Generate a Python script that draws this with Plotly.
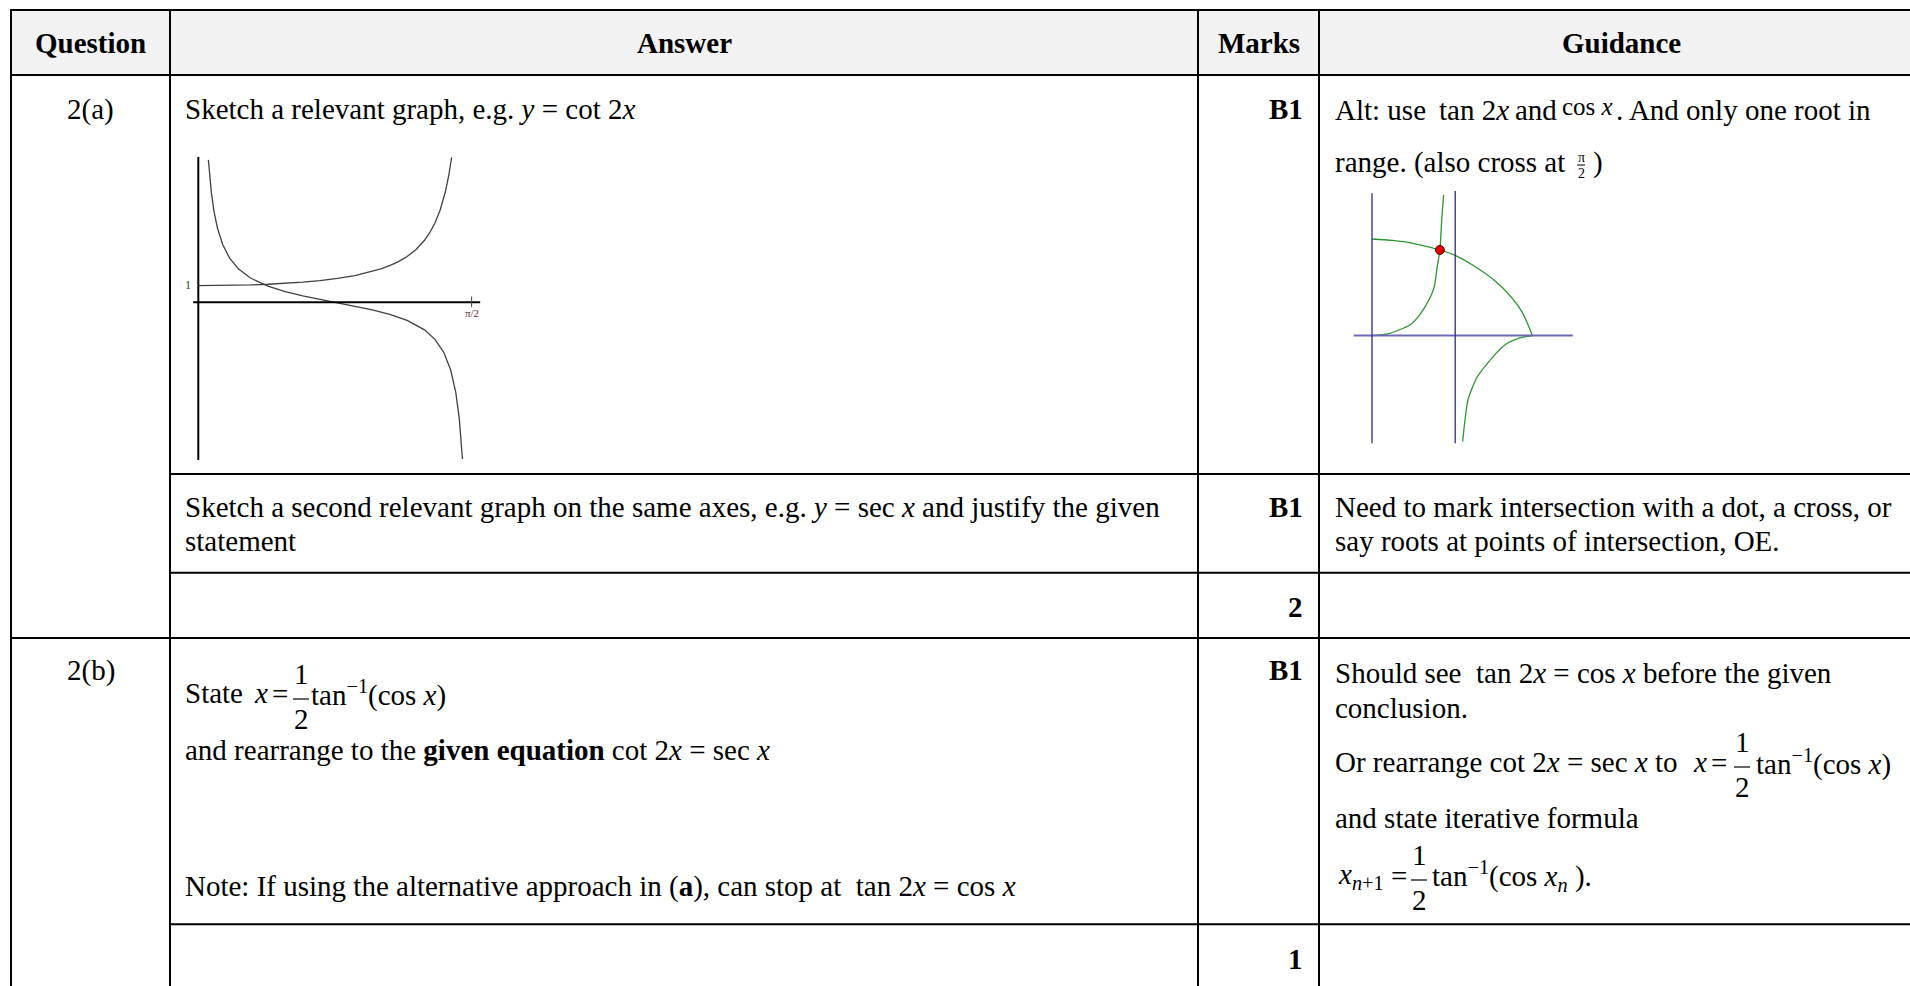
import plotly.graph_objects as go

W, H = 1910, 986
FONT = "Liberation Serif, Times New Roman, serif"

# ---------------- data ----------------
HEADERS = ["Question", "Answer", "Marks", "Guidance"]
QUESTIONS = ["2(a)", "2(b)"]
MARKS = ["B1", "B1", "2", "B1", "1"]

# Graph 1 (answer sketch): y = sec x and y = cot 2x, x in radians
G1_SEC_X = [0, 0.1, 0.2, 0.3, 0.4, 0.5, 0.6, 0.7, 0.8, 0.9, 1.0, 1.05, 1.1, 1.15,
            1.2, 1.25, 1.3, 1.33, 1.36, 1.39, 1.42, 1.44, 1.456]
G1_SEC_Y = [1.0, 1.005, 1.02, 1.047, 1.086, 1.139, 1.212, 1.307, 1.435, 1.609, 1.851,
            2.01, 2.205, 2.448, 2.76, 3.171, 3.738, 4.193, 4.78, 5.562, 6.658, 7.669, 8.73]
G1_COT_X = [0.058, 0.065, 0.075, 0.09, 0.11, 0.14, 0.18, 0.23, 0.3, 0.4, 0.5, 0.6, 0.7,
            0.785, 0.9, 1.0, 1.1, 1.2, 1.3, 1.36, 1.41, 1.45, 1.48, 1.5, 1.518]
G1_COT_Y = [8.58, 7.65, 6.62, 5.49, 4.47, 3.48, 2.66, 2.02, 1.46, 0.971, 0.642, 0.389,
            0.173, 0.0, -0.233, -0.458, -0.728, -1.092, -1.662, -2.23, -3.0, -4.058,
            -5.446, -7.02, -9.44]
G1_TICK_LABELS = ["1", "\u03c0/2"]

# Graph 2 (guidance sketch): cos x and tan 2x (hand sketch)
G2_COS_X = [0.0, 0.2, 0.4, 0.665, 0.815, 1.0, 1.2, 1.362, 1.472, 1.571]
G2_COS_Y = [1.0, 0.985, 0.955, 0.886, 0.83, 0.72, 0.57, 0.40, 0.24, 0.0]
G2_TAN_UP_X = [0.0, 0.151, 0.371, 0.481, 0.573, 0.610, 0.639, 0.665, 0.683, 0.701]
G2_TAN_UP_Y = [0.0, 0.016, 0.109, 0.235, 0.402, 0.506, 0.713, 0.886, 1.197, 1.456]
G2_TAN_LO_X = [1.571, 1.435, 1.325, 1.215, 1.031, 0.940, 0.888]
G2_TAN_LO_Y = [0.0, -0.029, -0.081, -0.185, -0.427, -0.668, -1.100]
G2_ROOT_X = [0.665]
G2_ROOT_Y = [0.886]


def PX(x):
    return x / W


def PY(y):
    return 1 - y / H


shapes = []
annotations = []


def hline(y, x0, x1, width=2, color="black"):
    shapes.append(dict(type="line", xref="paper", yref="paper", x0=PX(x0), x1=PX(x1),
                       y0=PY(y), y1=PY(y), line=dict(color=color, width=width)))


def vline(x, y0, y1, width=2, color="black"):
    shapes.append(dict(type="line", xref="paper", yref="paper", x0=PX(x), x1=PX(x),
                       y0=PY(y0), y1=PY(y1), line=dict(color=color, width=width)))


def ann(text, x, y, anchor="left", size=29, color="black"):
    annotations.append(dict(text=text, x=PX(x), y=PY(y), xref="paper", yref="paper",
                            xanchor=anchor, yanchor="middle", showarrow=False,
                            font=dict(family=FONT, size=size, color=color)))


def frac(cx, ybar, num="1", den="2", size=29, half=8, gup=25, gdn=20):
    ann(num, cx, ybar - gup, anchor="center", size=size)
    ann(den, cx, ybar + gdn, anchor="center", size=size)
    hline(ybar, cx - half, cx + half, width=1.2)


# ---------------- table frame ----------------
RIGHT = 1915
shapes.append(dict(type="rect", xref="paper", yref="paper", x0=PX(11), x1=1.0,
                   y0=PY(75), y1=PY(10), fillcolor="#f2f2f2", line=dict(width=0),
                   layer="below"))
hline(10, 10, RIGHT)
hline(75, 10, RIGHT)
hline(474, 170, RIGHT)
hline(572.7, 170, RIGHT)
hline(638, 10, RIGHT)
hline(924.3, 170, RIGHT)
for xv in [11, 170, 1198, 1319]:
    vline(xv, 9, 990)

# ---------------- header ----------------
ann("<b>%s</b>" % HEADERS[0], 90.5, 43, anchor="center")
ann("<b>%s</b>" % HEADERS[1], 684, 43, anchor="center")
ann("<b>%s</b>" % HEADERS[2], 1258.5, 43, anchor="center")
ann("<b>%s</b>" % HEADERS[3], 1621, 43, anchor="center")

# ---------------- question column ----------------
ann(QUESTIONS[0], 90.5, 109, anchor="center")
ann(QUESTIONS[1], 90.5, 670, anchor="center")

# ---------------- marks column ----------------
ann("<b>%s</b>" % MARKS[0], 1305, 109, anchor="right")
ann("<b>%s</b>" % MARKS[1], 1305, 507, anchor="right")
ann("<b>%s</b>" % MARKS[2], 1305, 607, anchor="right")
ann("<b>%s</b>" % MARKS[3], 1305, 670, anchor="right")
ann("<b>%s</b>" % MARKS[4], 1305, 959, anchor="right")

# ---------------- answer column ----------------
ann("Sketch a relevant graph, e.g. <i>y</i> = cot 2<i>x</i>", 183, 109)
ann("Sketch a second relevant graph on the same axes, e.g. <i>y</i> = sec <i>x</i> and justify the given", 183, 507)
ann("statement", 183, 541)

ann("State", 183, 693)
ann("<i>x</i>", 252, 693)
ann("=", 270, 694)
frac(301, 699)
ann("tan<sup>\u22121</sup>(cos <i>x</i>)", 309, 693)
ann("and rearrange to the <b>given equation</b> cot 2<i>x</i> = sec <i>x</i>", 183, 750)
ann("Note: If using the alternative approach in (<b>a</b>), can stop at  tan 2<i>x</i> = cos <i>x</i>", 183, 886)

# ---------------- guidance column ----------------
ann("Alt: use", 1333, 110)
ann("tan 2<i>x</i>", 1437, 110)
ann("and", 1513, 110)
ann("cos <i>x</i>", 1560, 106, size=25)
ann(". And only one root in", 1614, 110)
ann("range. (also cross at", 1333, 162)
ann("\u03c0", 1581, 157, anchor="center", size=14)
ann("2", 1581, 173, anchor="center", size=14)
hline(165, 1577, 1585, width=1)
ann(")", 1591, 162)

ann("Need to mark intersection with a dot, a cross, or", 1333, 507)
ann("say roots at points of intersection, OE.", 1333, 541)

ann("Should see  tan 2<i>x</i> = cos <i>x</i> before the given", 1333, 673)
ann("conclusion.", 1333, 708)
ann("Or rearrange cot 2<i>x</i> = sec <i>x</i> to", 1333, 762)
ann("<i>x</i>", 1691, 762)
ann("=", 1709, 763)
frac(1742, 767)
ann("tan<sup>\u22121</sup>(cos <i>x</i>)", 1754, 762)
ann("and state iterative formula", 1333, 818)
ann("<i>x</i><sub><i>n</i>+1</sub>", 1336, 876)
ann("=", 1389, 876)
frac(1419, 880)
ann("tan<sup>\u22121</sup>(cos <i>x<sub>n</sub></i> ).", 1430, 876)

# ---------------- graph 1 geometry ----------------
G1_X0, G1_XS = 198.3, 174.0   # pixel of x=0, px per rad
G1_Y0, G1_YS = 302.3, 16.6    # pixel of y=0, px per unit
G1_BOX = (175, 500, 145, 475)
g1_xr = [(G1_BOX[0] - G1_X0) / G1_XS, (G1_BOX[1] - G1_X0) / G1_XS]
g1_yr = [(G1_Y0 - G1_BOX[3]) / G1_YS, (G1_Y0 - G1_BOX[2]) / G1_YS]

# ---------------- graph 2 geometry ----------------
G2_X0, G2_XS = 1372.0, 102.1
G2_Y0, G2_YS = 335.5, 96.5
G2_BOX = (1340, 1610, 180, 455)
g2_xr = [(G2_BOX[0] - G2_X0) / G2_XS, (G2_BOX[1] - G2_X0) / G2_XS]
g2_yr = [(G2_Y0 - G2_BOX[3]) / G2_YS, (G2_Y0 - G2_BOX[2]) / G2_YS]

fig = go.Figure()

common = dict(mode="lines", hoverinfo="skip", showlegend=False)
fig.add_trace(go.Scatter(x=G1_SEC_X, y=G1_SEC_Y, line=dict(color="#404040", width=1.3),
                         xaxis="x", yaxis="y", **common))
fig.add_trace(go.Scatter(x=G1_COT_X, y=G1_COT_Y, line=dict(color="#404040", width=1.3),
                         xaxis="x", yaxis="y", **common))

GREEN = "#2c962c"
fig.add_trace(go.Scatter(x=G2_COS_X, y=G2_COS_Y, line=dict(color=GREEN, width=1.3, shape="spline", smoothing=0.8),
                         xaxis="x2", yaxis="y2", **common))
fig.add_trace(go.Scatter(x=G2_TAN_UP_X, y=G2_TAN_UP_Y, line=dict(color=GREEN, width=1.3, shape="spline", smoothing=0.6),
                         xaxis="x2", yaxis="y2", **common))
fig.add_trace(go.Scatter(x=G2_TAN_LO_X, y=G2_TAN_LO_Y, line=dict(color=GREEN, width=1.3, shape="spline", smoothing=0.6),
                         xaxis="x2", yaxis="y2", **common))
fig.add_trace(go.Scatter(x=G2_ROOT_X, y=G2_ROOT_Y, mode="markers", hoverinfo="skip", showlegend=False,
                         marker=dict(color="#e00000", size=9, line=dict(color="#6a0000", width=1)),
                         xaxis="x2", yaxis="y2"))

# graph 1 axes (drawn in data coordinates)
shapes.append(dict(type="line", xref="x", yref="y", x0=-0.03, x1=1.62, y0=0, y1=0,
                   line=dict(color="black", width=2)))
shapes.append(dict(type="line", xref="x", yref="y", x0=0, x1=0, y0=-9.5, y1=8.75,
                   line=dict(color="black", width=2)))
shapes.append(dict(type="line", xref="x", yref="y", x0=1.5708, x1=1.5708, y0=-0.3, y1=0.35,
                   line=dict(color="#444444", width=1)))
annotations.append(dict(text=G1_TICK_LABELS[0], x=-0.03, y=1.05, xref="x", yref="y",
                        xanchor="right", yanchor="middle", showarrow=False,
                        font=dict(family=FONT, size=12, color="#1f3f3f")))
annotations.append(dict(text=G1_TICK_LABELS[1], x=1.5708, y=-0.65, xref="x", yref="y",
                        xanchor="center", yanchor="middle", showarrow=False,
                        font=dict(family=FONT, size=11, color="#6a2a2a")))

# graph 2 axes
NAVY = "#2b2b8f"
shapes.append(dict(type="line", xref="x2", yref="y2", x0=-0.179, x1=1.967, y0=0, y1=0,
                   line=dict(color="#6a6ab6", width=2)))
shapes.append(dict(type="line", xref="x2", yref="y2", x0=0, x1=0, y0=-1.117, y1=1.473,
                   line=dict(color=NAVY, width=1.3)))
shapes.append(dict(type="line", xref="x2", yref="y2", x0=0.815, x1=0.815, y0=-1.117, y1=1.497,
                   line=dict(color=NAVY, width=1.3)))

hidden = dict(visible=False, showgrid=False, zeroline=False, fixedrange=True)
fig.update_layout(
    width=W, height=H,
    margin=dict(l=0, r=0, t=0, b=0),
    paper_bgcolor="white", plot_bgcolor="rgba(0,0,0,0)",
    xaxis=dict(domain=[PX(G1_BOX[0]), PX(G1_BOX[1])], range=g1_xr, **hidden),
    yaxis=dict(domain=[PY(G1_BOX[3]), PY(G1_BOX[2])], range=g1_yr, **hidden),
    xaxis2=dict(domain=[PX(G2_BOX[0]), PX(G2_BOX[1])], range=g2_xr, anchor="y2", **hidden),
    yaxis2=dict(domain=[PY(G2_BOX[3]), PY(G2_BOX[2])], range=g2_yr, anchor="x2", **hidden),
    shapes=shapes,
    annotations=annotations,
    showlegend=False,
)

fig.write_html("out.html", config={"displayModeBar": False},
               post_script="document.body.style.margin='0';document.body.style.overflow='hidden';")
